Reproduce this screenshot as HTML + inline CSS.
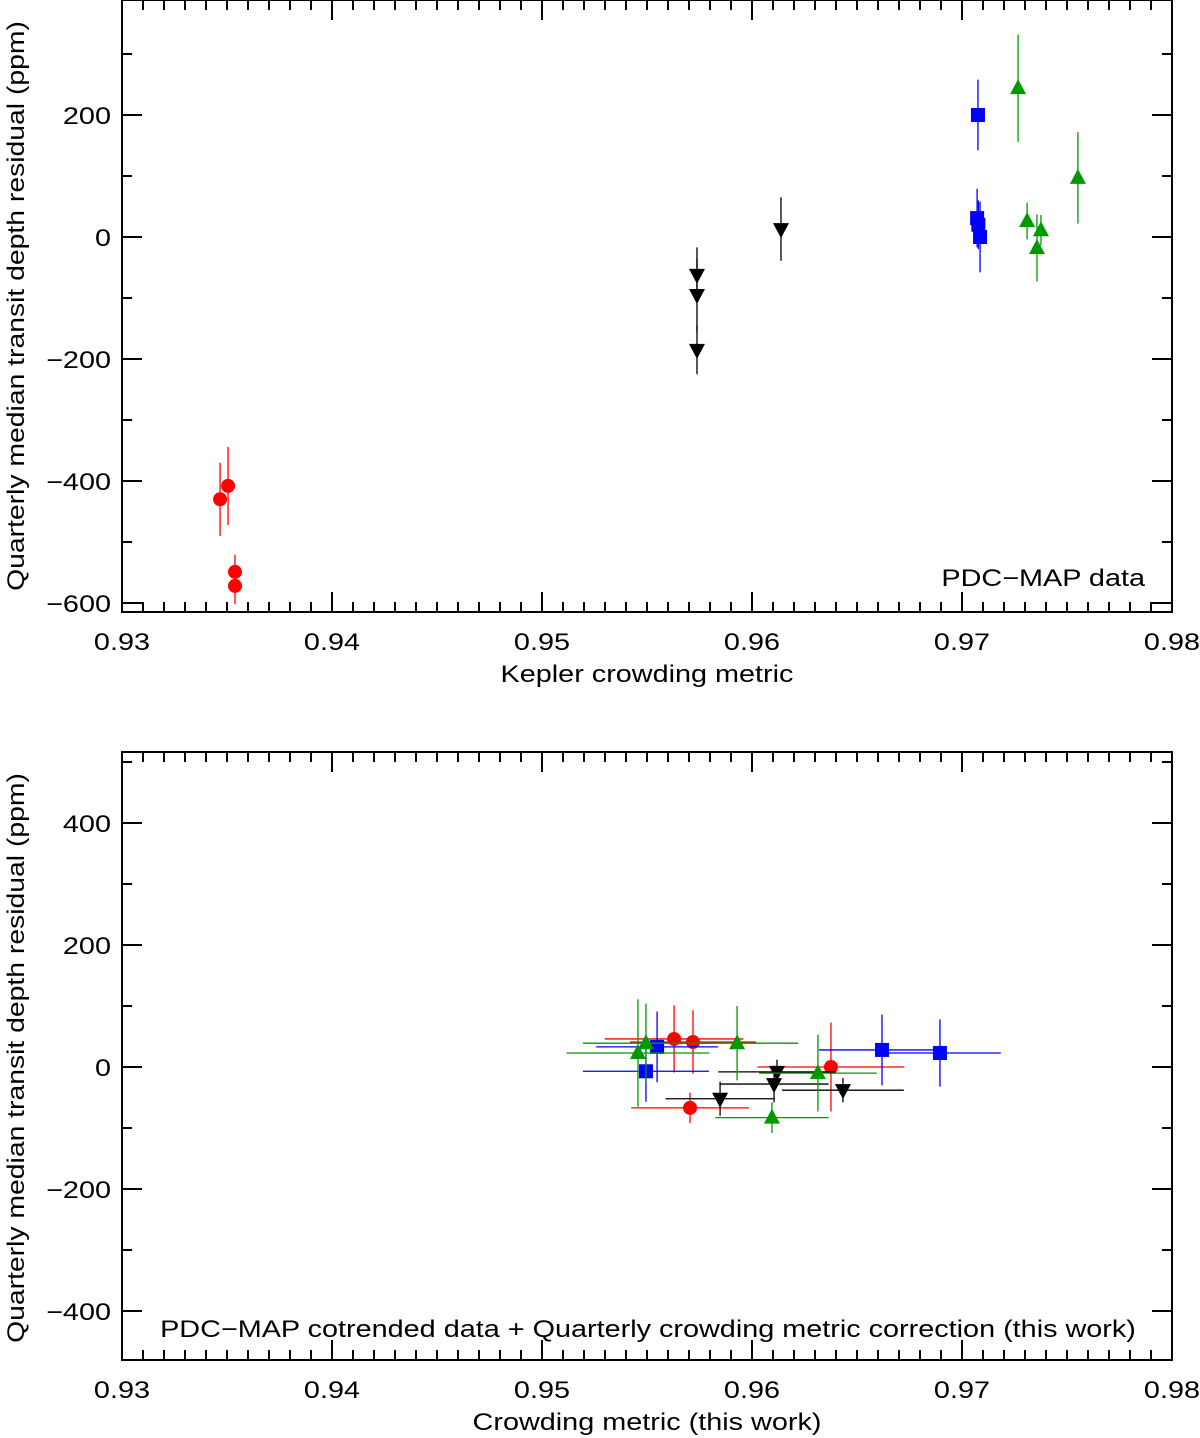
<!DOCTYPE html>
<html><head><meta charset="utf-8"><style>
html,body{margin:0;padding:0;background:#fff}
svg{display:block}
text{font-family:"Liberation Sans",sans-serif;font-size:24px;fill:#000}
</style></head><body>
<svg id="chart" width="1200" height="1438" viewBox="0 0 1200 1438" xmlns="http://www.w3.org/2000/svg"></svg>
<script>
// ---- Top panel data ----
const topRedX=[0.93467,0.93505,0.93538,0.93538];
const topRedY=[-430,-408,-549,-572];
const topRedYe=[60,64,28,30];
const topBlackX=[0.95738,0.95738,0.95738,0.96138];
const topBlackY=[-62,-95,-185,13];
const topBlackYe=[45,60,40,52];
const topBlueX=[0.97076,0.97072,0.97078,0.97086];
const topBlueY=[200,31,20,0];
const topBlueYe=[58,48,40,58];
const topGreenX=[0.97267,0.9731,0.97357,0.97376,0.97552];
const topGreenY=[244,26,-18,11,97];
const topGreenYe=[88,30,55,25,75];
// ---- Bottom panel data ----
const botRedX=[0.95629,0.95719,0.95705,0.96376];
const botRedY=[46,41,-67,0];
const botRedXe=[0.0033,0.003,0.0028,0.0035];
const botRedYe=[55,52,25,73];
const botBlackX=[0.96119,0.96105,0.95848,0.96433];
const botBlackY=[-8,-28,-52,-38];
const botBlackXe=[0.0028,0.0026,0.0026,0.0029];
const botBlackYe=[20,30,28,20];
const botBlueX=[0.95548,0.95495,0.96619,0.96895];
const botBlueY=[33,-7,28,23];
const botBlueXe=[0.0029,0.003,0.003,0.0029];
const botBlueYe=[58,50,58,55];
const botGreenX=[0.95457,0.95495,0.95929,0.96314,0.96095];
const botGreenY=[23,39,39,-10,-83];
const botGreenXe=[0.0034,0.003,0.0029,0.0028,0.0027];
const botGreenYe=[88,65,61,63,25];
const xTicks=[0.93,0.94,0.95,0.96,0.97,0.98];
const topYTicks=[-600,-400,-200,0,200];
const botYTicks=[-400,-200,0,200,400];

const NS="http://www.w3.org/2000/svg";
const svg=document.getElementById('chart');
function el(tag,attrs,parent){const e=document.createElementNS(NS,tag);for(const k in attrs)e.setAttribute(k,attrs[k]);(parent||svg).appendChild(e);return e;}
function stretch(t,f){const w=t.getComputedTextLength();t.setAttribute('textLength',(w*f).toFixed(1));t.setAttribute('lengthAdjust','spacingAndGlyphs');}
const L=122,R=1172;
function xs(v){return L+(v-0.93)*21000;}
function makeY(zero){return v=>zero-v*0.61;}

function panel(name,top,bottom,zero,yTicks,xTitle,yTitleY){
  const ys=makeY(zero);
  const g=el('g',{});
  
  
  const fr=el('rect',{x:L,y:top,width:R-L,height:bottom-top,fill:'none',stroke:'#000','stroke-width':2},g);
  
  for(let i=0;i<=50;i++){const x=L+i*21;const major=i%10===0;const len=major?20:10;
    el('line',{x1:x,y1:bottom,x2:x,y2:bottom-len,stroke:'#000','stroke-width':2},g);
    el('line',{x1:x,y1:top,x2:x,y2:top+len,stroke:'#000','stroke-width':2},g);}
  xTicks.forEach(v=>{const t=el('text',{x:xs(v),y:bottom+38,'text-anchor':'middle'},g);t.textContent=v.toFixed(2);
    stretch(t,1.2);});
  const vmin=Math.ceil(((zero-bottom)/0.61)/100)*100, vmax=Math.floor(((zero-top)/0.61)/100)*100;
  for(let v=vmin;v<=vmax;v+=100){const y=ys(v);const major=v%200===0;const len=major?20:10;
    el('line',{x1:L,y1:y,x2:L+len,y2:y,stroke:'#000','stroke-width':2},g);
    el('line',{x1:R,y1:y,x2:R-len,y2:y,stroke:'#000','stroke-width':2},g);}
  yTicks.forEach(v=>{const t=el('text',{x:111,y:ys(v)+9,'text-anchor':'end'},g);t.textContent=(v<0?'\u2212':'')+Math.abs(v);
    stretch(t,1.2);});
  const xt=el('text',{x:(L+R)/2,y:bottom+70,'text-anchor':'middle'},g);xt.textContent=xTitle;
  stretch(xt,1.2);
  const yt=el('text',{x:0,y:0,'text-anchor':'middle',transform:`translate(24,${yTitleY}) rotate(-90)`},g);
  yt.textContent='Quarterly median transit depth residual (ppm)';
  stretch(yt,1.18);
  return {g,ys};
}
function marker(g,shape,color,cx,cy){
  let m;
  if(shape==='circle')m=el('circle',{cx:cx,cy:cy,r:7,fill:color},g);
  else if(shape==='square')m=el('rect',{x:cx-7,y:cy-7,width:14,height:14,fill:color},g);
  else if(shape==='up')m=el('polygon',{points:`${cx-8},${cy+6} ${cx+8},${cy+6} ${cx},${cy-9}`,fill:color},g);
  else m=el('polygon',{points:`${cx-8},${cy-6} ${cx+8},${cy-6} ${cx},${cy+9}`,fill:color},g);
  
  
}
function series(p,shape,color,X,Y,Ye,Xe,name){
  const sg=el('g',{},p.g);
  
  
  X.forEach((x,i)=>{const cx=xs(x),cy=p.ys(Y[i]);
    el('line',{x1:cx,y1:p.ys(Y[i]-Ye[i]),x2:cx,y2:p.ys(Y[i]+Ye[i]),stroke:color,'stroke-width':1.3},sg);
    if(Xe)el('line',{x1:xs(x-Xe[i]),y1:cy,x2:xs(x+Xe[i]),y2:cy,stroke:color,'stroke-width':1.3},sg);
  });
  X.forEach((x,i)=>marker(sg,shape,color,xs(x),p.ys(Y[i])));
}
const p1=panel('top-panel',0,612,237,topYTicks,'Kepler crowding metric',306);
series(p1,'circle','#f00',topRedX,topRedY,topRedYe,null,'red-series');
series(p1,'down','#000',topBlackX,topBlackY,topBlackYe,null,'black-series');
series(p1,'square','#00f',topBlueX,topBlueY,topBlueYe,null,'blue-series');
series(p1,'up','#090',topGreenX,topGreenY,topGreenYe,null,'green-series');
const a1=el('text',{x:1145,y:586,'text-anchor':'end'},p1.g);a1.textContent='PDC\u2212MAP data';
stretch(a1,1.2);

const p2=panel('bottom-panel',752,1360,1067,botYTicks,'Crowding metric (this work)',1058);
series(p2,'circle','#f00',botRedX,botRedY,botRedYe,botRedXe,'red-series');
series(p2,'down','#000',botBlackX,botBlackY,botBlackYe,botBlackXe,'black-series');
series(p2,'square','#00f',botBlueX,botBlueY,botBlueYe,botBlueXe,'blue-series');
series(p2,'up','#090',botGreenX,botGreenY,botGreenYe,botGreenXe,'green-series');
const a2=el('text',{x:648,y:1337,'text-anchor':'middle'},p2.g);a2.textContent='PDC\u2212MAP cotrended data + Quarterly crowding metric correction (this work)';
stretch(a2,1.2);
</script>
</body></html>
